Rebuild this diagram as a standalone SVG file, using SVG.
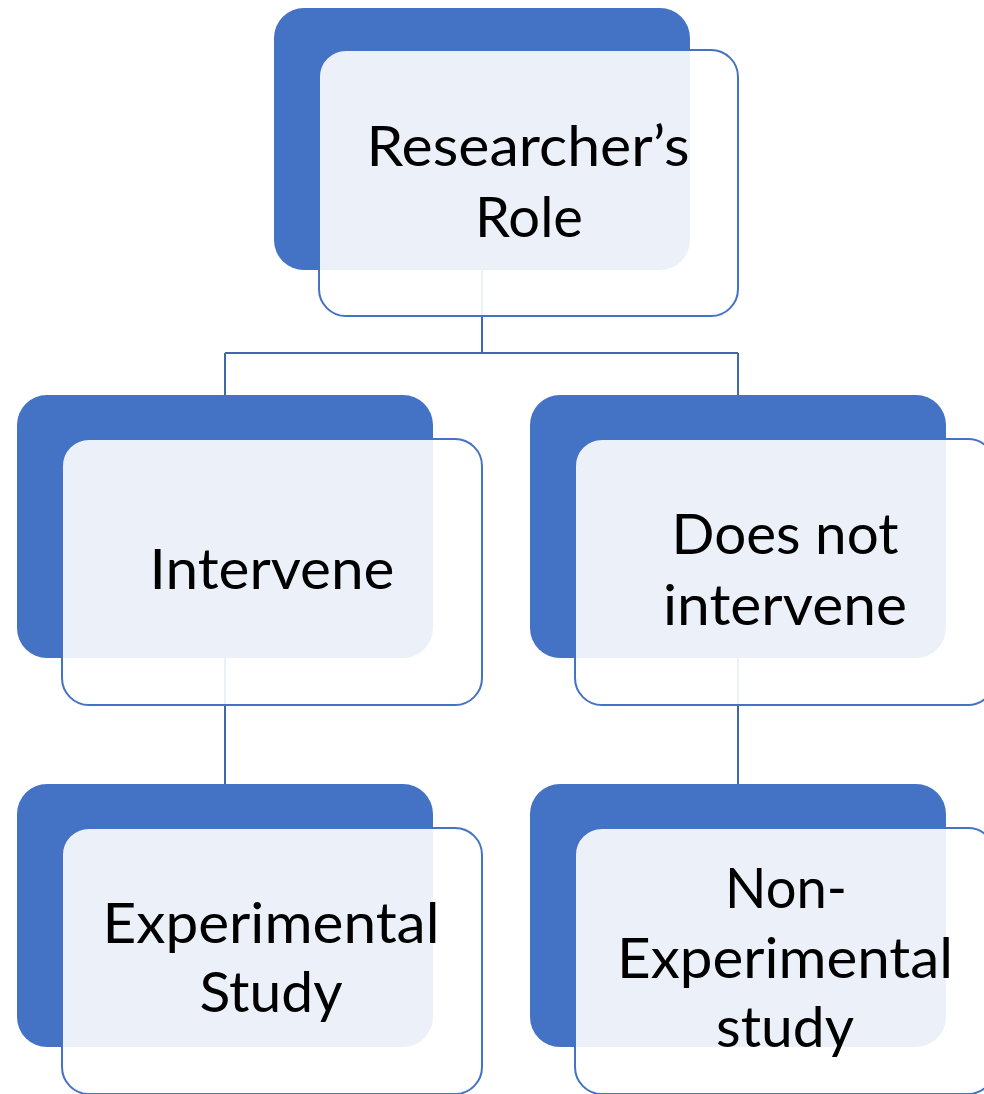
<svg xmlns="http://www.w3.org/2000/svg" width="984" height="1094" viewBox="0 0 984 1094">
<style>
.back{fill:#4472C4;}
.front{fill:#FFFFFF;fill-opacity:0.9;stroke:#4472C4;stroke-width:2;}
.lbl{font-family:Lato,"Open Sans","Liberation Sans",sans-serif;font-size:57px;fill:#000000;text-anchor:middle;}
.conn{fill:none;stroke:#3F67AE;stroke-width:2;}
</style>
<rect width="984" height="1094" fill="#FFFFFF"/>
<g id="connectors">
<path class="conn" d="M482,270 V353 M225,353 H738 M225,353 V395 M738,353 V395"/>
<path class="conn" d="M225,658 V784"/>
<path class="conn" d="M738,658 V784"/>
</g>
<g id="node-root">
<rect class="back" x="274" y="8" width="416" height="262" rx="30"/>
<rect class="front" x="319" y="50" width="419" height="266" rx="27"/>
<text class="lbl" x="528" y="166" textLength="323" lengthAdjust="spacingAndGlyphs">Researcher’s</text>
<text class="lbl" x="529" y="237" textLength="108" lengthAdjust="spacingAndGlyphs">Role</text>
</g>
<g id="node-intervene">
<rect class="back" x="17" y="395" width="416" height="263" rx="30"/>
<rect class="front" x="62" y="439" width="420" height="266" rx="27"/>
<text class="lbl" x="272" y="589" textLength="245" lengthAdjust="spacingAndGlyphs">Intervene</text>
</g>
<g id="node-not-intervene">
<rect class="back" x="530" y="395" width="416" height="263" rx="30"/>
<rect class="front" x="575" y="439" width="420" height="266" rx="27"/>
<text class="lbl" x="785" y="554" textLength="227" lengthAdjust="spacingAndGlyphs">Does not</text>
<text class="lbl" x="785" y="625" textLength="244" lengthAdjust="spacingAndGlyphs">intervene</text>
</g>
<g id="node-experimental">
<rect class="back" x="17" y="784" width="416" height="263" rx="30"/>
<rect class="front" x="62" y="828" width="420" height="266" rx="27"/>
<text class="lbl" x="271" y="943" textLength="337" lengthAdjust="spacingAndGlyphs">Experimental</text>
<text class="lbl" x="271" y="1012" textLength="143" lengthAdjust="spacingAndGlyphs">Study</text>
</g>
<g id="node-non-experimental">
<rect class="back" x="530" y="784" width="416" height="263" rx="30"/>
<rect class="front" x="575" y="828" width="420" height="266" rx="27"/>
<text class="lbl" x="786" y="908" textLength="122" lengthAdjust="spacingAndGlyphs">Non-</text>
<text class="lbl" x="785" y="978" textLength="336" lengthAdjust="spacingAndGlyphs">Experimental</text>
<text class="lbl" x="785" y="1047" textLength="138" lengthAdjust="spacingAndGlyphs">study</text>
</g>
</svg>
